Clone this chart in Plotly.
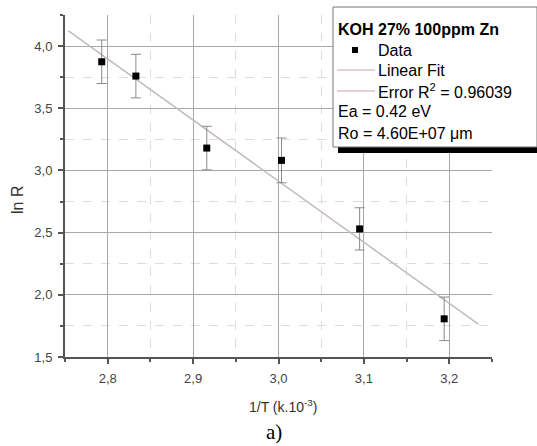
import plotly.graph_objects as go

# ---- data ----
inv_T = [2.793, 2.833, 2.916, 3.0035, 3.095, 3.194]
ln_R = [3.874, 3.759, 3.180, 3.081, 2.530, 1.807]
ln_R_err = [0.175, 0.175, 0.175, 0.180, 0.170, 0.175]
fit_x = [2.754, 3.234]
fit_y = [4.123, 1.764]
legend_title = "KOH 27% 100ppm Zn"
legend_items = ["Data", "Linear Fit", "Error R<sup>2</sup> = 0.96039"]
legend_notes = ["Ea = 0.42 eV", "Ro = 4.60E+07 μm"]
x_title = "1/T (k.10<sup>-3</sup>)"
y_title = "ln R"
caption = "a)"

W, H = 537, 446
L, R, T, B = 65, 45, 15, 89
PW, PH = W - L - R, H - T - B


def px(xp):
    return (xp - L) / PW


def py(yp):
    return (H - B - yp) / PH


FONT = "Liberation Sans, Arial, sans-serif"

fig = go.Figure()
fig.add_trace(go.Scatter(
    x=fit_x, y=fit_y, mode="lines",
    line=dict(color="#c4baba", width=1.5), showlegend=False))
fig.add_trace(go.Scatter(
    x=inv_T, y=ln_R, mode="markers",
    marker=dict(symbol="square", size=7, color="black"),
    error_y=dict(type="data", array=ln_R_err, visible=True,
                 color="#8a8a8a", thickness=1, width=5),
    showlegend=False))

axis_common = dict(
    showline=True, linecolor="#555555", linewidth=2,
    ticks="outside", ticklen=5, tickwidth=1.5, tickcolor="#555555",
    showgrid=True, gridcolor="#a8a8a8", gridwidth=1,
    zeroline=False, tickformat=".1f",
    tickfont=dict(family=FONT, size=13, color="#444444"),
    mirror=False, ticklabelstandoff=3,
)

fig.update_xaxes(range=[2.75, 3.25], dtick=0.1, tick0=2.8,
                 minor=dict(dtick=0.05, tick0=2.75, showgrid=True,
                            gridcolor="#dcdcdc", griddash="dash",
                            ticks="outside", ticklen=3, tickcolor="#555555"),
                 **axis_common)
fig.update_yaxes(range=[1.5, 4.25], dtick=0.5, tick0=1.5,
                 minor=dict(dtick=0.25, tick0=1.5, showgrid=True,
                            gridcolor="#dcdcdc", griddash="dash",
                            ticks="outside", ticklen=3, tickcolor="#555555"),
                 **axis_common)

shapes = []
annotations = []

# legend box with shadow
bx0, bx1, by0, by1 = 333, 537, 7, 147
shapes.append(dict(type="rect", xref="paper", yref="paper",
                   x0=px(bx0 + 5), x1=px(bx1 + 5), y0=py(by1 + 6), y1=py(by0 + 6),
                   fillcolor="black", line=dict(width=0), layer="above"))
shapes.append(dict(type="rect", xref="paper", yref="paper",
                   x0=px(bx0), x1=px(bx1), y0=py(by1), y1=py(by0),
                   fillcolor="white", line=dict(color="#777777", width=1), layer="above"))

lf = dict(family=FONT, size=16, color="black")
annotations.append(dict(xref="paper", yref="paper", x=px(336), y=py(29),
                        xanchor="left", yanchor="middle", showarrow=False,
                        text="<b>" + legend_title + "</b>", font=lf))
rows = [50, 70, 91]
for i, (txt, yy) in enumerate(zip(legend_items, rows)):
    annotations.append(dict(xref="paper", yref="paper", x=px(376), y=py(yy),
                            xanchor="left", yanchor="middle", showarrow=False,
                            text=txt, font=lf))
    if i == 0:
        shapes.append(dict(type="rect", xref="paper", yref="paper",
                           x0=px(352), x1=px(358), y0=py(53), y1=py(47),
                           fillcolor="black", line=dict(width=0), layer="above"))
    else:
        shapes.append(dict(type="line", xref="paper", yref="paper",
                           x0=px(337), x1=px(375), y0=py(yy), y1=py(yy),
                           line=dict(color="#caa4aa", width=1), layer="above"))
for txt, yy in zip(legend_notes, [111, 133]):
    annotations.append(dict(xref="paper", yref="paper", x=px(336), y=py(yy),
                            xanchor="left", yanchor="middle", showarrow=False,
                            text=txt, font=lf))

# axis titles and caption
annotations.append(dict(xref="paper", yref="paper", x=px(283), y=py(406),
                        xanchor="center", yanchor="middle", showarrow=False,
                        text=x_title, font=dict(family=FONT, size=14, color="#333333")))
annotations.append(dict(xref="paper", yref="paper", x=px(17), y=py(200),
                        xanchor="center", yanchor="middle", showarrow=False, textangle=-90,
                        text=y_title, font=dict(family=FONT, size=16, color="#333333")))
annotations.append(dict(xref="paper", yref="paper", x=px(274), y=py(432),
                        xanchor="center", yanchor="middle", showarrow=False,
                        text=caption, font=dict(family="Liberation Serif, Times New Roman, serif",
                                                size=21, color="black")))

fig.update_layout(
    width=W, height=H,
    margin=dict(l=L, r=R, t=T, b=B, pad=0),
    paper_bgcolor="white", plot_bgcolor="white",
    separators=", ",
    shapes=shapes, annotations=annotations,
    showlegend=False,
)

fig.write_html("out.html")
